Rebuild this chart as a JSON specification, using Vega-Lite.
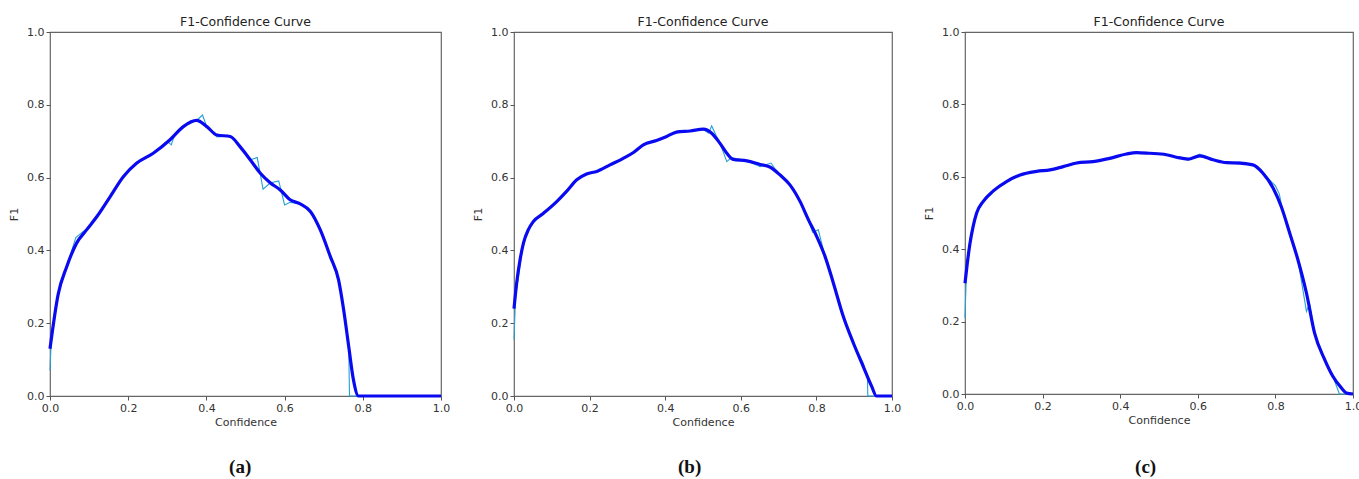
{
  "$schema": "https://vega.github.io/schema/vega-lite/v6.json",
  "padding": {"left": 7, "top": 14, "right": 5, "bottom": 2},
  "spacing": 20,
  "config": {
    "font": "DejaVu Sans",
    "view": {"stroke": "#666", "strokeWidth": 1.2},
    "axis": {
      "grid": false, "domain": false, "tickColor": "#555", "tickSize": 4, "tickWidth": 1,
      "labelFontSize": 11, "labelColor": "#333", "labelPadding": 2, "labelFlush": false, "labelOverlap": false,
      "titleFontSize": 11, "titleFontWeight": "normal", "titleColor": "#333"
    },
    "axisY": {"titlePadding": 7},
    "axisX": {"titlePadding": 3},
    "title": {"fontSize": 12.5, "fontWeight": "normal", "color": "#222", "offset": -2, "frame": "group", "anchor": "middle"}
  },
  "datasets": {
    "a_s": [
      {"conf":0,"f1":0.13},{"conf":0.021,"f1":0.28},{"conf":0.043,"f1":0.356},{"conf":0.068,"f1":0.42},{"conf":0.094,"f1":0.457},{"conf":0.12,"f1":0.493},{"conf":0.154,"f1":0.548},{"conf":0.188,"f1":0.603},{"conf":0.222,"f1":0.64},{"conf":0.264,"f1":0.667},{"conf":0.307,"f1":0.704},{"conf":0.341,"f1":0.74},{"conf":0.375,"f1":0.757},{"conf":0.401,"f1":0.74},{"conf":0.427,"f1":0.717},{"conf":0.461,"f1":0.713},{"conf":0.486,"f1":0.685},{"conf":0.512,"f1":0.649},{"conf":0.538,"f1":0.612},{"conf":0.563,"f1":0.586},{"conf":0.589,"f1":0.566},{"conf":0.614,"f1":0.539},{"conf":0.64,"f1":0.528},{"conf":0.666,"f1":0.507},{"conf":0.691,"f1":0.457},{"conf":0.717,"f1":0.383},{"conf":0.738,"f1":0.319},{"conf":0.751,"f1":0.237},{"conf":0.764,"f1":0.136},{"conf":0.776,"f1":0.045},{"conf":0.789,"f1":0},{"conf":1,"f1":0}
    ],
    "a_r": [
      {"conf":0,"f1":0.07},{"conf":0.003,"f1":0.15},{"conf":0.021,"f1":0.28},{"conf":0.043,"f1":0.356},{"conf":0.066,"f1":0.435},{"conf":0.094,"f1":0.46},{"conf":0.12,"f1":0.49},{"conf":0.154,"f1":0.548},{"conf":0.188,"f1":0.605},{"conf":0.222,"f1":0.64},{"conf":0.264,"f1":0.667},{"conf":0.3,"f1":0.7},{"conf":0.31,"f1":0.69},{"conf":0.32,"f1":0.72},{"conf":0.341,"f1":0.742},{"conf":0.375,"f1":0.757},{"conf":0.39,"f1":0.772},{"conf":0.401,"f1":0.74},{"conf":0.427,"f1":0.712},{"conf":0.461,"f1":0.715},{"conf":0.486,"f1":0.685},{"conf":0.512,"f1":0.649},{"conf":0.53,"f1":0.655},{"conf":0.545,"f1":0.568},{"conf":0.563,"f1":0.585},{"conf":0.585,"f1":0.591},{"conf":0.6,"f1":0.525},{"conf":0.614,"f1":0.532},{"conf":0.64,"f1":0.528},{"conf":0.666,"f1":0.507},{"conf":0.691,"f1":0.46},{"conf":0.717,"f1":0.383},{"conf":0.74,"f1":0.31},{"conf":0.751,"f1":0.237},{"conf":0.764,"f1":0.136},{"conf":0.766,"f1":0},{"conf":1,"f1":0}
    ],
    "b_s": [
      {"conf":0,"f1":0.24},{"conf":0.007,"f1":0.31},{"conf":0.016,"f1":0.374},{"conf":0.025,"f1":0.42},{"conf":0.038,"f1":0.457},{"conf":0.051,"f1":0.479},{"conf":0.078,"f1":0.502},{"conf":0.113,"f1":0.534},{"conf":0.139,"f1":0.562},{"conf":0.166,"f1":0.594},{"conf":0.192,"f1":0.61},{"conf":0.219,"f1":0.617},{"conf":0.254,"f1":0.635},{"conf":0.289,"f1":0.653},{"conf":0.316,"f1":0.669},{"conf":0.342,"f1":0.69},{"conf":0.377,"f1":0.702},{"conf":0.404,"f1":0.713},{"conf":0.43,"f1":0.725},{"conf":0.466,"f1":0.728},{"conf":0.501,"f1":0.733},{"conf":0.523,"f1":0.722},{"conf":0.545,"f1":0.694},{"conf":0.563,"f1":0.667},{"conf":0.58,"f1":0.65},{"conf":0.616,"f1":0.646},{"conf":0.651,"f1":0.636},{"conf":0.677,"f1":0.629},{"conf":0.704,"f1":0.607},{"conf":0.73,"f1":0.58},{"conf":0.757,"f1":0.534},{"conf":0.779,"f1":0.484},{"conf":0.801,"f1":0.438},{"conf":0.823,"f1":0.383},{"conf":0.845,"f1":0.31},{"conf":0.871,"f1":0.219},{"conf":0.898,"f1":0.145},{"conf":0.924,"f1":0.081},{"conf":0.946,"f1":0.027},{"conf":0.959,"f1":0},{"conf":1,"f1":0}
    ],
    "b_r": [
      {"conf":0,"f1":0.155},{"conf":0.004,"f1":0.27},{"conf":0.016,"f1":0.36},{"conf":0.025,"f1":0.42},{"conf":0.038,"f1":0.46},{"conf":0.051,"f1":0.482},{"conf":0.078,"f1":0.502},{"conf":0.113,"f1":0.534},{"conf":0.139,"f1":0.562},{"conf":0.166,"f1":0.594},{"conf":0.192,"f1":0.61},{"conf":0.219,"f1":0.617},{"conf":0.254,"f1":0.635},{"conf":0.289,"f1":0.653},{"conf":0.316,"f1":0.669},{"conf":0.342,"f1":0.69},{"conf":0.377,"f1":0.702},{"conf":0.404,"f1":0.713},{"conf":0.43,"f1":0.727},{"conf":0.466,"f1":0.727},{"conf":0.5,"f1":0.733},{"conf":0.515,"f1":0.722},{"conf":0.523,"f1":0.742},{"conf":0.535,"f1":0.715},{"conf":0.545,"f1":0.694},{"conf":0.563,"f1":0.644},{"conf":0.575,"f1":0.655},{"conf":0.616,"f1":0.646},{"conf":0.651,"f1":0.63},{"conf":0.68,"f1":0.64},{"conf":0.69,"f1":0.625},{"conf":0.704,"f1":0.607},{"conf":0.73,"f1":0.58},{"conf":0.757,"f1":0.534},{"conf":0.779,"f1":0.484},{"conf":0.79,"f1":0.45},{"conf":0.805,"f1":0.457},{"conf":0.815,"f1":0.415},{"conf":0.823,"f1":0.383},{"conf":0.845,"f1":0.31},{"conf":0.871,"f1":0.219},{"conf":0.898,"f1":0.145},{"conf":0.924,"f1":0.09},{"conf":0.935,"f1":0.05},{"conf":0.936,"f1":0},{"conf":1,"f1":0}
    ],
    "c_s": [
      {"conf":0,"f1":0.306},{"conf":0.006,"f1":0.362},{"conf":0.013,"f1":0.417},{"conf":0.021,"f1":0.463},{"conf":0.03,"f1":0.5},{"conf":0.047,"f1":0.532},{"conf":0.073,"f1":0.561},{"conf":0.107,"f1":0.587},{"conf":0.142,"f1":0.605},{"conf":0.185,"f1":0.615},{"conf":0.219,"f1":0.619},{"conf":0.253,"f1":0.628},{"conf":0.288,"f1":0.638},{"conf":0.33,"f1":0.642},{"conf":0.373,"f1":0.651},{"conf":0.416,"f1":0.663},{"conf":0.442,"f1":0.667},{"conf":0.476,"f1":0.665},{"conf":0.519,"f1":0.661},{"conf":0.545,"f1":0.654},{"conf":0.575,"f1":0.649},{"conf":0.605,"f1":0.658},{"conf":0.639,"f1":0.647},{"conf":0.674,"f1":0.639},{"conf":0.708,"f1":0.638},{"conf":0.742,"f1":0.633},{"conf":0.768,"f1":0.61},{"conf":0.794,"f1":0.569},{"conf":0.815,"f1":0.518},{"conf":0.837,"f1":0.444},{"conf":0.858,"f1":0.371},{"conf":0.88,"f1":0.279},{"conf":0.901,"f1":0.168},{"conf":0.927,"f1":0.095},{"conf":0.948,"f1":0.049},{"conf":0.97,"f1":0.017},{"conf":0.983,"f1":0.003},{"conf":1,"f1":0}
    ],
    "c_r": [
      {"conf":0,"f1":0.21},{"conf":0.004,"f1":0.35},{"conf":0.013,"f1":0.43},{"conf":0.025,"f1":0.48},{"conf":0.03,"f1":0.5},{"conf":0.047,"f1":0.532},{"conf":0.073,"f1":0.561},{"conf":0.107,"f1":0.587},{"conf":0.142,"f1":0.605},{"conf":0.185,"f1":0.615},{"conf":0.219,"f1":0.619},{"conf":0.253,"f1":0.628},{"conf":0.288,"f1":0.64},{"conf":0.33,"f1":0.642},{"conf":0.373,"f1":0.651},{"conf":0.416,"f1":0.663},{"conf":0.442,"f1":0.667},{"conf":0.476,"f1":0.665},{"conf":0.519,"f1":0.661},{"conf":0.545,"f1":0.654},{"conf":0.575,"f1":0.646},{"conf":0.605,"f1":0.663},{"conf":0.639,"f1":0.647},{"conf":0.674,"f1":0.637},{"conf":0.708,"f1":0.641},{"conf":0.742,"f1":0.633},{"conf":0.768,"f1":0.61},{"conf":0.8,"f1":0.575},{"conf":0.81,"f1":0.553},{"conf":0.818,"f1":0.51},{"conf":0.837,"f1":0.444},{"conf":0.858,"f1":0.371},{"conf":0.88,"f1":0.228},{"conf":0.888,"f1":0.25},{"conf":0.901,"f1":0.168},{"conf":0.927,"f1":0.095},{"conf":0.948,"f1":0.049},{"conf":0.965,"f1":0},{"conf":1,"f1":0}
    ]
  },
  "hconcat": [
    {
      "title": {"text": "(a)", "orient": "bottom", "anchor": "middle", "frame": "bounds", "dx": 11, "font": "Liberation Serif", "fontWeight": "bold", "fontSize": 19, "color": "#111", "offset": 30},
      "vconcat": [{
        "width": 391, "height": 364,
        "title": "F1-Confidence Curve",
        "encoding": {
          "x": {"field": "conf", "type": "quantitative", "scale": {"domain": [0, 1], "nice": false, "zero": false}, "axis": {"title": "Confidence", "values": [0,0.2,0.4,0.6,0.8,1], "format": ".1f"}},
          "y": {"field": "f1", "type": "quantitative", "scale": {"domain": [0, 1], "nice": false}, "axis": {"title": "F1", "values": [0,0.2,0.4,0.6,0.8,1], "format": ".1f"}}
        },
        "layer": [
          {"data": {"name": "a_r"}, "mark": {"type": "line", "color": "#25a0d6", "strokeWidth": 1.1}},
          {"data": {"name": "a_s"}, "mark": {"type": "line", "color": "#0a0af0", "strokeWidth": 3.2, "interpolate": "monotone"}}
        ]
      }]
    },
    {
      "title": {"text": "(b)", "orient": "bottom", "anchor": "middle", "frame": "bounds", "dx": 3, "font": "Liberation Serif", "fontWeight": "bold", "fontSize": 19, "color": "#111", "offset": 30},
      "vconcat": [{
        "width": 378, "height": 364,
        "title": "F1-Confidence Curve",
        "encoding": {
          "x": {"field": "conf", "type": "quantitative", "scale": {"domain": [0, 1], "nice": false, "zero": false}, "axis": {"title": "Confidence", "values": [0,0.2,0.4,0.6,0.8,1], "format": ".1f"}},
          "y": {"field": "f1", "type": "quantitative", "scale": {"domain": [0, 1], "nice": false}, "axis": {"title": "F1", "values": [0,0.2,0.4,0.6,0.8,1], "format": ".1f"}}
        },
        "layer": [
          {"data": {"name": "b_r"}, "mark": {"type": "line", "color": "#25a0d6", "strokeWidth": 1.1}},
          {"data": {"name": "b_s"}, "mark": {"type": "line", "color": "#0a0af0", "strokeWidth": 3.2, "interpolate": "monotone"}}
        ]
      }]
    },
    {
      "title": {"text": "(c)", "orient": "bottom", "anchor": "middle", "frame": "bounds", "dx": 3, "font": "Liberation Serif", "fontWeight": "bold", "fontSize": 19, "color": "#111", "offset": 32},
      "vconcat": [{
        "width": 388, "height": 362,
        "title": "F1-Confidence Curve",
        "encoding": {
          "x": {"field": "conf", "type": "quantitative", "scale": {"domain": [0, 1], "nice": false, "zero": false}, "axis": {"title": "Confidence", "values": [0,0.2,0.4,0.6,0.8,1], "format": ".1f"}},
          "y": {"field": "f1", "type": "quantitative", "scale": {"domain": [0, 1], "nice": false}, "axis": {"title": "F1", "values": [0,0.2,0.4,0.6,0.8,1], "format": ".1f"}}
        },
        "layer": [
          {"data": {"name": "c_r"}, "mark": {"type": "line", "color": "#25a0d6", "strokeWidth": 1.1}},
          {"data": {"name": "c_s"}, "mark": {"type": "line", "color": "#0a0af0", "strokeWidth": 3.2, "interpolate": "monotone"}}
        ]
      }]
    }
  ]
}
